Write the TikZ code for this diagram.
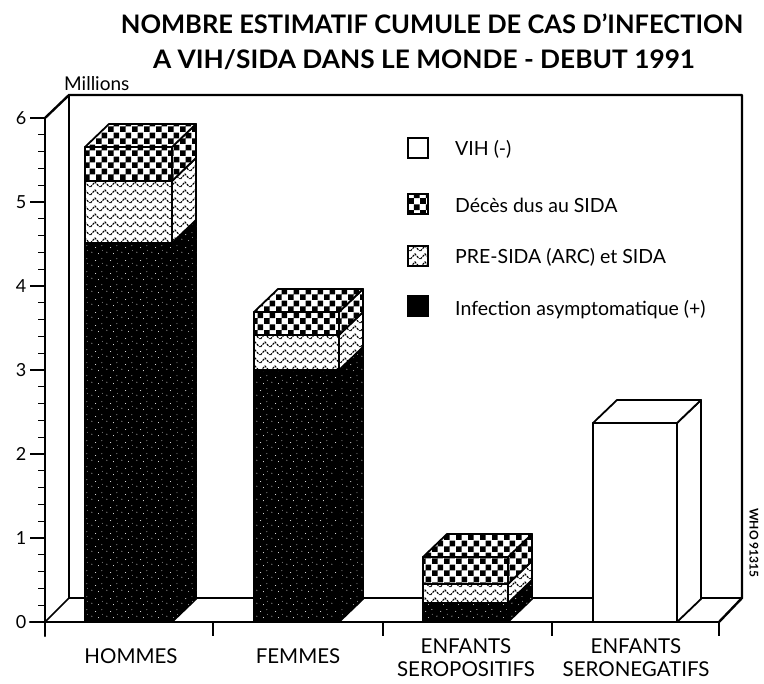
\documentclass[tikz,border=0pt]{standalone}
\usepackage{fontspec}
\setmainfont{Lato}
\usetikzlibrary{patterns}
\pgfdeclarepatternformonly{mychecker}{\pgfpointorigin}{\pgfpoint{12pt}{12pt}}{\pgfpoint{12pt}{12pt}}{%
  \pgfpathrectangle{\pgfpointorigin}{\pgfpoint{6pt}{6pt}}%
  \pgfpathrectangle{\pgfpoint{6pt}{6pt}}{\pgfpoint{6pt}{6pt}}%
  \pgfusepath{fill}}
\pgfdeclarepatternformonly{myzigzag}{\pgfpoint{-1pt}{-1pt}}{\pgfpoint{11pt}{9pt}}{\pgfpoint{10pt}{8pt}}{%
  \pgfsetlinewidth{1.1pt}%
  \pgfsetdash{{2.2pt}{1pt}}{0pt}%
  \pgfpathmoveto{\pgfpoint{0.5pt}{1pt}}%
  \pgfpathlineto{\pgfpoint{5pt}{6pt}}%
  \pgfpathlineto{\pgfpoint{9.5pt}{1pt}}%
  \pgfusepath{stroke}}
\pgfdeclarepatternformonly{myspeckle}{\pgfpointorigin}{\pgfpoint{15pt}{13pt}}{\pgfpoint{15pt}{13pt}}{%
  \pgfpathcircle{\pgfpoint{2pt}{3pt}}{0.55pt}%
  \pgfpathcircle{\pgfpoint{9pt}{1.5pt}}{0.45pt}%
  \pgfpathcircle{\pgfpoint{6pt}{8pt}}{0.55pt}%
  \pgfpathcircle{\pgfpoint{12.5pt}{10pt}}{0.45pt}%
  \pgfpathcircle{\pgfpoint{13pt}{5pt}}{0.4pt}%
  \pgfusepath{fill}}
\def\dx{24}
\def\dy{23}
\newcommand\barseg[5]{% style, xl, xr, ybottom, ytop
  \path[#1,barline] (#2,#4) rectangle (#3,#5);
  \path[#1,barline] (#3,#4) -- (#3+\dx,#4-\dy) -- (#3+\dx,#5-\dy) -- (#3,#5) -- cycle;}
\newcommand\bartop[4]{% style, xl, xr, ytop
  \path[#1,barline] (#2,#4) -- (#3,#4) -- (#3+\dx,#4-\dy) -- (#2+\dx,#4-\dy) -- cycle;}
\begin{document}
\begin{tikzpicture}[x=1pt,y=-1pt,
  frame/.style={line width=2.4pt,line join=round,line cap=round},
  thin/.style={line width=1.6pt},
  barline/.style={draw=black,line width=1.8pt,line join=round},
  deaths/.style={preaction={fill=white},pattern=mychecker},
  presida/.style={preaction={fill=white},pattern=myzigzag},
  infect/.style={fill=black,postaction={pattern=myspeckle,pattern color=white}},
  negative/.style={fill=white},
  titletext/.style={font=\bfseries\fontsize{25.5}{28}\selectfont,inner sep=0pt},
  cat/.style={font=\fontsize{20.5}{22}\selectfont,align=center,inner sep=0pt},
  ylab/.style={font=\fontsize{18}{20}\selectfont,inner sep=0pt},
  legtext/.style={font=\fontsize{19.5}{21}\selectfont,anchor=west,inner sep=0pt},
  legbox/.style={draw=black,line width=1.6pt,minimum size=20pt,inner sep=0pt}]
\useasboundingbox (0,0) rectangle (764,684);
% title
\node[titletext] (t1) at (432,24) {NOMBRE ESTIMATIF CUMULE DE CAS D\symbol{"27}INFECTION};
\node[titletext,xscale=1.03] (t2) at (424,60) {A VIH/SIDA DANS LE MONDE - DEBUT 1991};
\node[font=\fontsize{19}{21}\selectfont,anchor=west,inner sep=0pt] (mil) at (64,84) {Millions};
% back wall and floor
\draw[frame] (45,118) -- (69,95) -- (742,95) -- (742,598) -- (719,622);
\draw[thin] (69,95) -- (69,598) -- (742,598);
\draw[thin] (45,622) -- (69,598);
% y axis
\draw[frame] (45,118) -- (45,636);
\foreach \k in {0,...,30} \draw[line width=1.3pt] (38,622-16.8*\k) -- (45,622-16.8*\k);
\foreach \k in {0,...,6} {
  \draw[line width=1.6pt] (30,622-84*\k) -- (45,622-84*\k);
  \node[ylab] (y\k) at (21,622-84*\k) {\k};
}
% bars: HOMMES
\barseg{infect}{85}{172}{622}{243}
\barseg{presida}{85}{172}{243}{181}
\barseg{deaths}{85}{172}{181}{147}
\bartop{deaths}{85}{172}{147}
% FEMMES
\barseg{infect}{254}{339}{622}{370}
\barseg{presida}{254}{339}{370}{335}
\barseg{deaths}{254}{339}{335}{312}
\bartop{deaths}{254}{339}{312}
% ENFANTS SEROPOSITIFS
\barseg{infect}{423}{508}{622}{603}
\barseg{presida}{423}{508}{603}{584}
\barseg{deaths}{423}{508}{584}{557}
\bartop{deaths}{423}{508}{557}
% ENFANTS SERONEGATIFS
\barseg{negative}{593}{677}{622}{423}
\bartop{negative}{593}{677}{423}
% front floor line and x ticks
\draw[frame] (30,622) -- (719,622);
\foreach \x in {45,213,383,552,719} \draw[line width=1.6pt] (\x,622) -- (\x,636);
% category labels
\node[cat] (c1) at (131,656) {HOMMES};
\node[cat] (c2) at (298,656) {FEMMES};
\node[cat] (c3) at (466,658) {ENFANTS\\[1pt]SEROPOSITIFS};
\node[cat] (c4) at (636,658) {ENFANTS\\[1pt]SERONEGATIFS};
% legend
\node[legbox,fill=white] (l1) at (418,148) {};
\node[legtext] (lt1) at (455,149) {VIH (-)};
\node[legbox,deaths] (l2) at (418,204) {};
\node[legtext] (lt2) at (455,205) {Décès dus au SIDA};
\node[legbox,presida] (l3) at (418,256) {};
\node[legtext] (lt3) at (455,257) {PRE-SIDA (ARC) et SIDA};
\node[legbox,fill=black] (l4) at (418,306) {};
\node[legtext] (lt4) at (455,310) {Infection asymptomatique (+)};
% code
\node[font=\fontsize{12}{14}\selectfont\bfseries,rotate=-90,inner sep=0pt] (who) at (754,543) {WHO 91315};
\end{tikzpicture}
\end{document}
